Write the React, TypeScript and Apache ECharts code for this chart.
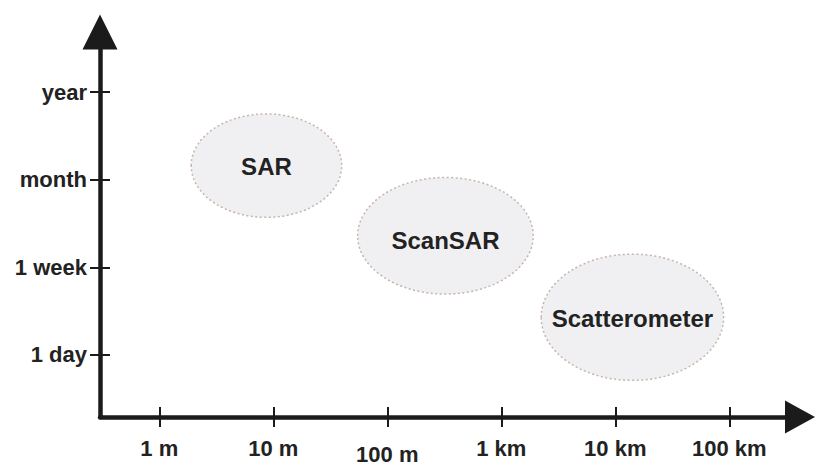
import React, { useEffect, useRef } from "react";
import * as echarts from "echarts";

// Horizontal axis: log10(distance in metres)
const distanceTicks = [0, 1, 2, 3, 4, 5];
const distanceLabels = ["1 m", "10 m", "100 m", "1 km", "10 km", "100 km"];
// Vertical axis: ordinal revisit-time levels
const timeTicks = [0, 1, 2, 3];
const timeLabels = ["1 day", "1 week", "month", "year"];

// Sensor regions (centre and half-extent, in axis units)
const sensorNames = ["SAR", "ScanSAR", "Scatterometer"];
const sensorCenterX = [0.94, 2.51, 4.15];
const sensorCenterY = [2.16, 1.36, 0.43];
const sensorHalfX = [0.66, 0.77, 0.8];
const sensorHalfY = [0.59, 0.665, 0.72];

const X_MIN = -0.52;
const X_MAX = 5.62;
const Y_MIN = -0.708;
const Y_MAX = 3.685;

const INK = "#1b1b1b";
const FONT = "Liberation Sans, Arial, sans-serif";

export default function App() {
  const ref = useRef<HTMLDivElement>(null);

  useEffect(() => {
    if (!ref.current) return;
    const chart = echarts.init(ref.current, undefined, { renderer: "svg" });

    const sensorData = sensorNames.map((_, i) => [
      sensorCenterX[i],
      sensorCenterY[i],
      sensorHalfX[i],
      sensorHalfY[i],
    ]);

    const labelStyle = {
      color: "#222",
      fontFamily: FONT,
      fontWeight: "bold" as const,
      fontSize: 22,
    };

    chart.setOption({
      animation: false,
      backgroundColor: "#ffffff",
      grid: { left: 100, right: 15, top: 32, bottom: 42, containLabel: false },
      xAxis: [
        {
          type: "value",
          min: X_MIN,
          max: X_MAX,
          position: "bottom",
          splitLine: { show: false },
          axisLine: {
            show: true,
            onZero: false,
            symbol: ["none", "triangle"],
            symbolSize: [33, 30],
            lineStyle: { color: INK, width: 4.5 },
          },
          axisTick: {
            show: true,
            inside: false,
            length: 10,
            customValues: distanceTicks,
            lineStyle: { color: INK, width: 2 },
          },
          axisLabel: {
            ...labelStyle,
            margin: 20,
            customValues: distanceTicks,
            formatter: (v: number) => {
              const i = Math.round(v);
              const t = distanceLabels[i] ?? "";
              return i === 2 ? "{low|" + t + "}" : t;
            },
            rich: { low: { ...labelStyle, padding: [6, 0, 0, 0] } },
          },
        },
        {
          type: "value",
          min: X_MIN,
          max: X_MAX,
          position: "bottom",
          splitLine: { show: false },
          axisLine: { show: false, onZero: false },
          axisTick: {
            show: true,
            inside: true,
            length: 10,
            customValues: distanceTicks,
            lineStyle: { color: INK, width: 2 },
          },
          axisLabel: { show: false },
        },
      ],
      yAxis: [
        {
          type: "value",
          min: Y_MIN,
          max: Y_MAX,
          position: "left",
          splitLine: { show: false },
          axisLine: {
            show: true,
            onZero: false,
            symbol: ["none", "triangle"],
            symbolSize: [35, 35],
            lineStyle: { color: INK, width: 4.5 },
          },
          axisTick: {
            show: true,
            inside: false,
            length: 10,
            customValues: timeTicks,
            lineStyle: { color: INK, width: 2 },
          },
          axisLabel: {
            ...labelStyle,
            margin: 13,
            customValues: timeTicks,
            formatter: (v: number) => timeLabels[Math.round(v)] ?? "",
          },
        },
        {
          type: "value",
          min: Y_MIN,
          max: Y_MAX,
          position: "left",
          splitLine: { show: false },
          axisLine: { show: false, onZero: false },
          axisTick: {
            show: true,
            inside: true,
            length: 10,
            customValues: timeTicks,
            lineStyle: { color: INK, width: 2 },
          },
          axisLabel: { show: false },
        },
      ],
      series: [
        {
          type: "custom",
          xAxisIndex: 0,
          yAxisIndex: 0,
          clip: false,
          data: sensorData,
          encode: { x: 0, y: 1 },
          renderItem: (params: any, api: any) => {
            const c = api.coord([api.value(0), api.value(1)]);
            const s = api.size([api.value(2), api.value(3)]);
            return {
              type: "group",
              children: [
                {
                  type: "ellipse",
                  shape: { cx: c[0], cy: c[1], rx: s[0], ry: s[1] },
                  style: {
                    fill: "#f0f0f3",
                    stroke: "#c7b4ac",
                    lineWidth: 1.5,
                    lineDash: [2, 2.5],
                  },
                },
                {
                  type: "text",
                  x: c[0],
                  y: c[1] + (params.dataIndex === 1 ? 5 : 1),
                  style: {
                    text: sensorNames[params.dataIndex],
                    fill: "#222",
                    font: "bold 24px " + FONT,
                    align: "center",
                    verticalAlign: "middle",
                  },
                },
              ],
            };
          },
        },
      ],
    });

    return () => chart.dispose();
  }, []);

  return (
    <div
      ref={ref}
      style={{ position: "absolute", left: 0, top: 0, width: 815, height: 465 }}
    />
  );
}
